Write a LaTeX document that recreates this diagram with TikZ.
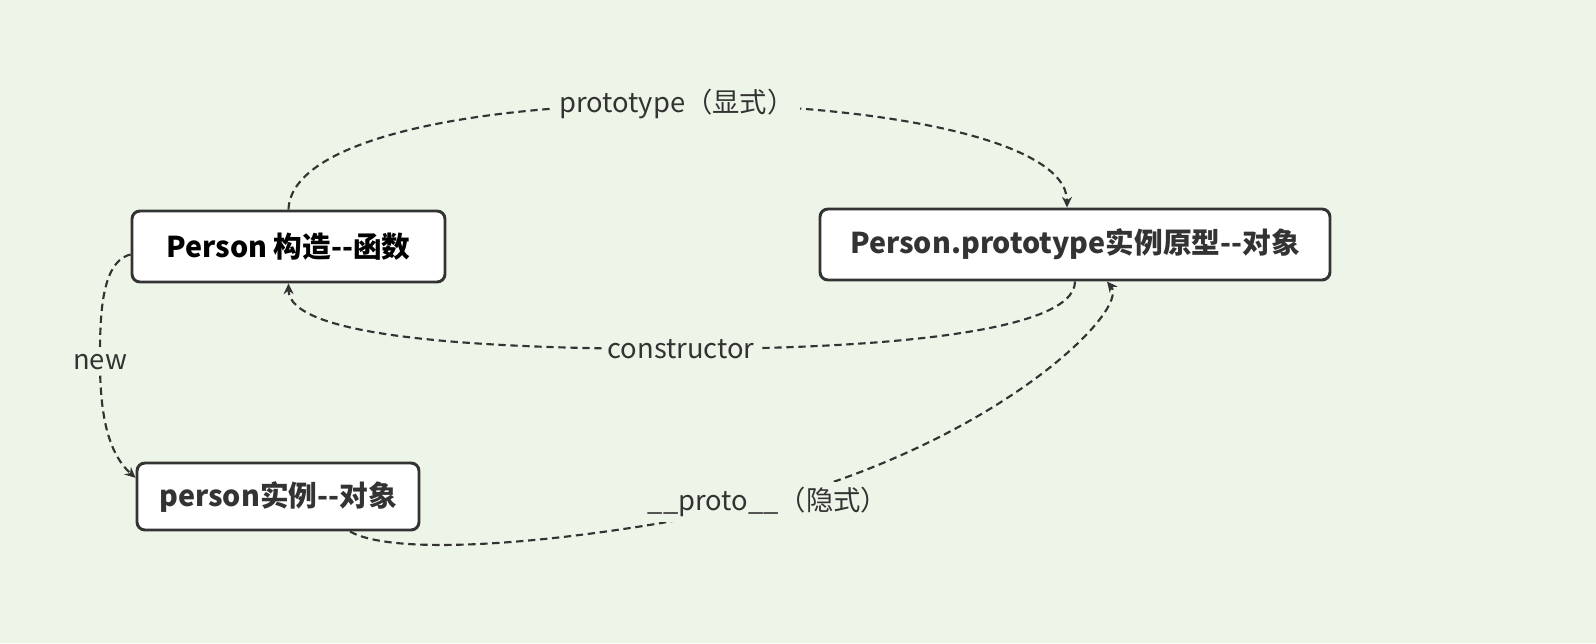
\documentclass[tikz,border=0pt]{standalone}
\usepackage{fontspec}
\setmainfont{Noto Sans CJK SC}
\usepackage{tikz}
\usetikzlibrary{arrows.meta}
\definecolor{bgcol}{RGB}{237,245,232}
\definecolor{ink}{RGB}{51,51,51}

\begin{document}
\begin{tikzpicture}[x=0.75pt,y=-0.75pt,
obj/.style={draw=ink, line width=2.2pt, rounded corners=6pt, fill=white, text=ink, inner sep=0pt, font=\fontsize{21.5}{26}\selectfont\bfseries},
link/.style={draw=ink, line width=1.6pt, dash pattern=on 5.5pt off 3.5pt},
tip/.style={-{Stealth[length=8pt,width=7.5pt]}},
lbl/.style={fill=bgcol, text=ink, inner sep=4pt, font=\fontsize{20.5}{24}\selectfont}]
\fill[bgcol] (0,0) rectangle (1596,643);
\node[obj, text=black, minimum width=234.75pt, minimum height=53.25pt] (ctor) at (288.5,246.5) {Person 构造-{}-函数};
\node[obj, minimum width=382.5pt, minimum height=53.25pt] (protoObj) at (1075,244.5) {Person.prototype实例原型-{}-对象};
\node[obj, minimum width=211.5pt, minimum height=50.25pt] (inst) at (278,496.5) {person实例-{}-对象};
\coordinate (viaPrototype) at (677,104);
\coordinate (viaConstructor) at (681,349);
\coordinate (viaNew) at (100,362);
\coordinate (viaProto) at (768,502);
\draw[link,tip] (ctor.north) .. controls (291,140) and (470,104) .. (viaPrototype) node[lbl]{prototype（显式）}
	.. controls (880,104) and (1067,140) .. ([xshift=-6pt]protoObj.north);
\draw[link,tip] (protoObj.south) .. controls (1075,335) and (860,349) .. (viaConstructor) node[lbl]{constructor}
	.. controls (460,349) and (289,335) .. (ctor.south);
\draw[link,tip] ([yshift=-6pt]ctor.west) .. controls (100,262) and (100,320) .. (viaNew) node[lbl]{new}
	.. controls (100,420) and (110,455) .. ([yshift=14pt]inst.west);
\draw[link,tip] ([xshift=54pt]inst.south) .. controls (400,560) and (600,540) .. (viaProto) node[lbl]{\_\_proto\_\_（隐式）}
	.. controls (1000,440) and (1130,310) .. ([xshift=24pt]protoObj.south);
\end{tikzpicture}
\end{document}
